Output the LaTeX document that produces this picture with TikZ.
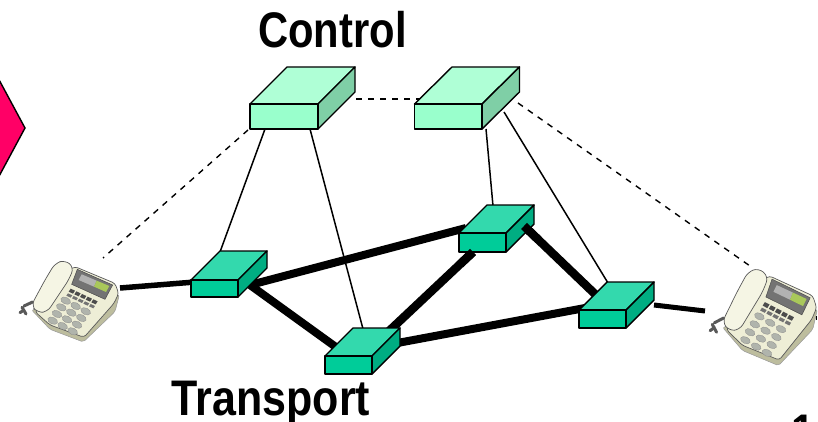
\documentclass[tikz,border=0pt]{standalone}
\usepackage{fontspec}
\usetikzlibrary{calc}
\setmainfont{Liberation Sans}
\definecolor{upfront}{HTML}{99FFCC}
\definecolor{uptop}{HTML}{AFFFD6}
\definecolor{upside}{HTML}{7FCFA6}
\definecolor{lowfront}{HTML}{00CC99}
\definecolor{lowtop}{HTML}{33D9AD}
\definecolor{lowside}{HTML}{00AD82}
\definecolor{pent}{HTML}{FF0066}
\definecolor{cream}{HTML}{EEEED6}
\definecolor{creamlt}{HTML}{F5F5E4}
\definecolor{creamdk}{HTML}{BDBD9E}
\definecolor{keygrey}{HTML}{B0B4AC}
\definecolor{lcd}{HTML}{A9C85A}
\tikzset{
  thinlink/.style={draw=black,line width=1.5pt},
  dashlink/.style={draw=black,line width=1.4pt,dash pattern=on 6pt off 6pt},
  thicklink/.style={draw=black,line width=8pt},
  boxedge/.style={draw=black,line width=1.4pt,line join=round},
  label/.style={font=\bfseries\fontsize{50}{50}\selectfont,inner sep=0pt,anchor=base,xscale=0.835},
}
% name, front-left x, front-top y, w, h, dx, dy, colour prefix
\newcommand{\swbox}[8]{%
  \coordinate (#1) at (#2+#4/2,#3+#5/2);
  \filldraw[boxedge,fill=#8top] (#2,#3) -- ++(#6,-#7) -- ++(#4,0) -- ++(-#6,#7) -- cycle;
  \filldraw[boxedge,fill=#8side] (#2+#4,#3) -- ++(#6,-#7) -- ++(0,#5) -- ++(-#6,#7) -- cycle;
  \filldraw[boxedge,fill=#8front] (#2,#3) rectangle ++(#4,#5);
}
\newcommand{\phoneicon}[4]{%
\begin{scope}[shift={(#1,#2)},x=#3pt,y=-#4pt]
  \draw[line width=3pt,color=black!65,line cap=round] (60,248) -- (72,240) (66,232) -- (78,252) (72,228) -- (98,216);
  \filldraw[fill=creamdk,draw=black!40,line width=.5pt,rounded corners=2pt] (95,240) -- (150,298) -- (250,336) -- (345,245) -- (358,195) -- (300,190) -- cycle;
  \filldraw[fill=cream,draw=black!65,line width=.7pt,rounded corners=3pt] (225,110) -- (345,160) -- (356,190) -- (342,220) -- (252,322) -- (150,285) -- (105,245) -- (170,140) -- cycle;
  \filldraw[fill=black!55,draw=black!70,line width=.5pt] (232,118) -- (338,165) -- (315,208) -- (215,163) -- cycle;
  \fill[fill=black!30] (245,133) -- (290,152) -- (282,170) -- (236,150) -- cycle;
  \fill[fill=lcd] (290,152) -- (328,168) -- (318,186) -- (282,170) -- cycle;
  \foreach \i in {0,...,4}{
    \fill[black!70] (212+17*\i,176+8*\i) -- ++(13,6) -- ++(-6,9) -- ++(-13,-6) -- cycle;
    \fill[black!55] (204+17*\i,190+8*\i) -- ++(13,6) -- ++(-5,7) -- ++(-13,-6) -- cycle;
  }
  \foreach \i in {0,1,2}{\foreach \j in {0,1,2,3}{
    \filldraw[fill=keygrey,draw=black!45,line width=.3pt,shift={({197+30*\i-13*\j},{212+16*\i+20*\j})},rotate=-25] (0,0) ellipse [x radius=5.2pt,y radius=3.3pt];
  }}
  \filldraw[fill=creamlt,draw=black!65,line width=.7pt,rounded corners=6pt] (165,100) -- (195,90) -- (222,112) -- (206,150) -- (142,246) -- (112,248) -- (94,226) -- (135,150) -- cycle;
\end{scope}}
\begin{document}
\begin{tikzpicture}[x=1pt,y=-1pt]
\useasboundingbox (0,0) rectangle (818,422);
\clip (0,0) rectangle (818,422);
% connector ends
\coordinate (ulA) at (265,129); \coordinate (ulB) at (310,129); \coordinate (ulC) at (248,130); \coordinate (ulD) at (356,99);
\coordinate (urA) at (486,129); \coordinate (urB) at (504,112); \coordinate (urC) at (518,103); \coordinate (urD) at (420,99);
\coordinate (aT) at (220,252); \coordinate (aL) at (195,282); \coordinate (aR) at (250,285);
\coordinate (bT) at (363,329); \coordinate (bL) at (340,350); \coordinate (bR) at (388,332); \coordinate (bE) at (392,344);
\coordinate (cT) at (493,206); \coordinate (cL) at (466,228); \coordinate (cB) at (473,252); \coordinate (cR) at (524,226);
\coordinate (dT) at (608,283); \coordinate (dL) at (585,308); \coordinate (dU) at (596,295); \coordinate (dR) at (654,305);
\coordinate (phLa) at (120,288); \coordinate (phLb) at (103,258);
\coordinate (phRa) at (705,311); \coordinate (phRb) at (750,266);
% pentagon
\filldraw[fill=pent,draw=black,line width=1.4pt,line join=miter] (-3,76) -- (25,128) -- (-3,180) -- cycle;
% phones
\phoneicon{0}{230}{0.3333}{0.3333}
\phoneicon{688.5}{232.3}{0.36}{0.3967}
\draw[black,line width=1pt] (816,316) -- (816,320);
% connectors behind the boxes
\draw[dashlink] (ulD) -- (urD);
\draw[dashlink] (ulC) -- (phLb);
\draw[dashlink] (urC) -- (phRb);
\draw[thicklink,line width=5.5pt] (phLa) -- (aL);
\draw[thicklink,line width=5pt] (dR) -- (phRa);
\draw[thicklink] (aR) -- (cL);
\draw[thicklink] (aR) -- (bL);
\draw[thicklink] (bE) -- (dL);
\draw[thinlink] (ulA) -- (aT);
\draw[thinlink] (ulB) -- (bT);
\draw[thinlink] (urA) -- (cT);
\draw[thinlink] (urB) -- (dT);
\draw[thicklink,line width=8.5pt] (bR) -- (cB);
\draw[thicklink,line width=8.5pt] (dU) -- (cR);
% boxes
\swbox{ul}{250}{104}{68}{25}{37}{37}{up}
\swbox{ur}{414.5}{104}{67.5}{25}{37.5}{37}{up}
\swbox{sa}{191}{280}{47}{17}{29}{29}{low}
\swbox{sb}{325}{356}{47}{18}{28}{28}{low}
\swbox{sc}{459}{233}{47}{19}{28}{28}{low}
\swbox{sd}{579}{310}{47}{18}{28}{28}{low}
\draw[thicklink,line width=8.5pt] (cR) -- ($(cR)!0.2!(dU)$);
\draw[thicklink,line width=8.5pt] (cB) -- ($(cB)!0.15!(bR)$);
% labels
\node[label] (ctl) at (332.5,47.5) {Control};
\node[label,xscale=1.03] (trn) at (271,415) {Transport};
\node[label] (pg) at (803.5,449) {1};
\end{tikzpicture}
\end{document}
